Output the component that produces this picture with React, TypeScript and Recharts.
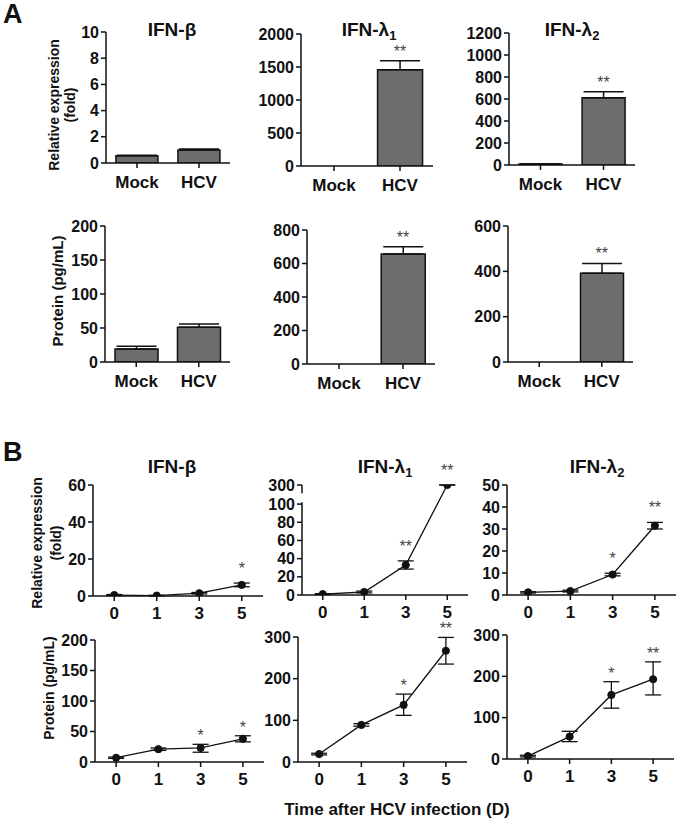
import {
  ComposedChart, Bar, Line, XAxis, YAxis, ErrorBar, LabelList, ReferenceLine,
} from 'recharts';

const FONT = '"Liberation Sans", Arial, sans-serif';
const INK = '#111';
const BAR_FILL = '#6d6d6d';

// ---- A: Mock vs HCV ----
const groups = ['Mock', 'HCV'];
const hcvStars = [undefined, '**'];

const mrnaBeta = [0.55, 1.0];
const mrnaBetaErr = [0.05, 0.06];
const mrnaBetaTicks = [0, 2, 4, 6, 8, 10];

const mrnaL1 = [0, 1460];
const mrnaL1Err = [0, 135];
const mrnaL1Ticks = [0, 500, 1000, 1500, 2000];

const mrnaL2 = [9, 612];
const mrnaL2Err = [0, 55];
const mrnaL2Ticks = [0, 200, 400, 600, 800, 1000, 1200];

const protBeta = [19, 51];
const protBetaErr = [4, 5];
const protBetaTicks = [0, 50, 100, 150, 200];

const protL1 = [0, 657];
const protL1Err = [0, 43];
const protL1Ticks = [0, 200, 400, 600, 800];

const protL2 = [0, 391];
const protL2Err = [0, 44];
const protL2Ticks = [0, 200, 400, 600];

// ---- B: time course (days after infection) ----
const days = ['0', '1', '3', '5'];

const tcMrnaBeta = [0.5, 0.2, 1.5, 6];
const tcMrnaBetaLo = [0.3, 0.2, 0.4, 1];
const tcMrnaBetaHi = [0.3, 0.2, 0.4, 1];
const tcMrnaBetaStars = [undefined, undefined, undefined, '*'];
const tcMrnaBetaTicks = [0, 20, 40, 60];

const tcMrnaL1 = [1, 3.3, 33, 300];
const tcMrnaL1Lo = [0.5, 1, 4.5, 0];
const tcMrnaL1Hi = [0.5, 1, 4.5, 0];
const tcMrnaL1Stars = [undefined, undefined, '**', '**'];
const tcMrnaL1Ticks = [0, 20, 40, 60, 80, 100, 300];

const tcMrnaL2 = [1.2, 1.8, 9.3, 31.5];
const tcMrnaL2Lo = [0.3, 0.4, 0.6, 1.5];
const tcMrnaL2Hi = [0.3, 0.4, 0.6, 1.5];
const tcMrnaL2Stars = [undefined, undefined, '*', '**'];
const tcMrnaL2Ticks = [0, 10, 20, 30, 40, 50];

const tcProtBeta = [7, 21, 23, 38];
const tcProtBetaLo = [1, 2, 7, 5];
const tcProtBetaHi = [1, 2, 6, 5];
const tcProtBetaStars = [undefined, undefined, '*', '*'];
const tcProtBetaTicks = [0, 50, 100, 150, 200];

const tcProtL1 = [19, 89, 137, 267];
const tcProtL1Lo = [2, 3, 25, 32];
const tcProtL1Hi = [2, 3, 26, 32];
const tcProtL1Stars = [undefined, undefined, '*', '**'];
const tcProtL1Ticks = [0, 100, 200, 300];

const tcProtL2 = [7, 54, 155, 193];
const tcProtL2Lo = [2, 12, 32, 38];
const tcProtL2Hi = [2, 13, 32, 42];
const tcProtL2Stars = [undefined, undefined, '*', '**'];
const tcProtL2Ticks = [0, 100, 200, 300];

// broken y axis for IFN-λ1 mRNA: linear up to 100, squeezed above
const BREAK = 100;
const squash = (v: number) => (v <= BREAK ? v : BREAK + (v - BREAK) * 0.105);
const same = (v: number) => v;

// plot-area boxes on the page
type Box = { x0: number; y0: number; x1: number; y1: number };
const YW = 50;
const MT = 34;
const MR = 12;
const XH = 34;

const tickStyle = { fontSize: 16, fontWeight: 700, fill: INK, fontFamily: FONT };
const axisStyle = { stroke: INK, strokeWidth: 1.5 };

function place(b: Box) {
  return {
    left: b.x0 - YW,
    top: b.y0 - MT,
    width: b.x1 - b.x0 + YW + MR,
    height: b.y1 - b.y0 + MT + XH,
  };
}

interface BarPanelProps {
  box: Box;
  values: number[];
  errs: number[];
  ticks: number[];
  stars?: (string | undefined)[];
}

function BarPanel({ box, values, errs, ticks, stars }: BarPanelProps) {
  const p = place(box);
  const data = groups.map((g, i) => ({
    g,
    v: values[i],
    e: [0, errs[i]],
    top: values[i] + errs[i],
    star: stars ? stars[i] : undefined,
  }));
  return (
    <div style={{ position: 'absolute', left: p.left, top: p.top }}>
      <ComposedChart width={p.width} height={p.height} data={data}
        margin={{ top: MT, right: MR, bottom: 0, left: 0 }} barCategoryGap="16%">
        <XAxis dataKey="g" height={XH} interval={0} tickSize={5} tickMargin={8}
          axisLine={axisStyle} tickLine={axisStyle}
          tick={{ ...tickStyle, fontSize: 17 }} />
        <YAxis width={YW} domain={[0, ticks[ticks.length - 1]]} ticks={ticks} interval={0}
          tickSize={5} tickMargin={2} axisLine={axisStyle} tickLine={axisStyle}
          tick={tickStyle} allowDataOverflow />
        <Bar dataKey="v" fill={BAR_FILL} stroke={INK} strokeWidth={1.5} isAnimationActive={false}>
          <ErrorBar dataKey="e" width={20} stroke={INK} strokeWidth={1.5} direction="y" />
        </Bar>
        <Line dataKey="top" stroke="none" dot={false} activeDot={false} legendType="none"
          isAnimationActive={false}>
          <LabelList dataKey="star" position="top" offset={4} fill="#444" fontSize={16}
            fontFamily={FONT} />
        </Line>
      </ComposedChart>
    </div>
  );
}

interface LinePanelProps {
  box: Box;
  values: number[];
  lo: number[];
  hi: number[];
  stars: (string | undefined)[];
  ticks: number[];
  starOffset: number;
  broken?: boolean;
}

function LinePanel({ box, values, lo, hi, stars, ticks, starOffset, broken }: LinePanelProps) {
  const p = place(box);
  const f = broken ? squash : same;
  const data = days.map((d, i) => ({
    i,
    d,
    v: f(values[i]),
    e: [f(values[i]) - f(values[i] - lo[i]), f(values[i] + hi[i]) - f(values[i])],
    top: f(values[i] + hi[i]),
    star: stars[i],
  }));
  const yTicks = ticks.map(f);
  const yMax = yTicks[yTicks.length - 1];
  return (
    <div style={{ position: 'absolute', left: p.left, top: p.top }}>
      <ComposedChart width={p.width} height={p.height} data={data}
        margin={{ top: MT, right: MR, bottom: 0, left: 0 }}>
        <XAxis type="number" dataKey="i" domain={[-0.5, 3.5]} ticks={[0, 1, 2, 3]}
          tickFormatter={(i: number) => days[i]} height={XH} interval={0}
          tickSize={5} tickMargin={6} axisLine={axisStyle} tickLine={axisStyle}
          tick={{ ...tickStyle, fontSize: 17 }} />
        <YAxis width={YW} domain={[0, yMax]} ticks={yTicks} interval={0}
          tickFormatter={(t: number) => String(ticks[yTicks.indexOf(t)])}
          tickSize={5} tickMargin={2} axisLine={broken ? false : axisStyle} tickLine={axisStyle}
          tick={tickStyle} allowDataOverflow />
        {broken && (
          <ReferenceLine ifOverflow="visible" stroke={INK} strokeWidth={1.5}
            segment={[{ x: -0.5, y: 0 }, { x: -0.5, y: 102 }]} />
        )}
        {broken && (
          <ReferenceLine ifOverflow="visible" stroke={INK} strokeWidth={1.5}
            segment={[{ x: -0.5, y: 112 }, { x: -0.5, y: yMax }]} />
        )}
        <Line dataKey="v" stroke={INK} strokeWidth={1.3} isAnimationActive={false}
          dot={{ r: 3.6, fill: INK, stroke: INK, strokeWidth: 1 }} activeDot={false}>
          <ErrorBar dataKey="e" width={8} stroke={INK} strokeWidth={1.3} direction="y" />
        </Line>
        <Line dataKey="top" stroke="none" dot={false} activeDot={false} legendType="none"
          isAnimationActive={false}>
          <LabelList dataKey="star" position="top" offset={starOffset} fill="#444"
            fontSize={16} fontFamily={FONT} />
        </Line>
      </ComposedChart>
    </div>
  );
}

function Title({ x, y, sub, children }: { x: number; y: number; sub?: string; children: string }) {
  return (
    <text x={x} y={y} textAnchor="middle" fontSize={19} fontWeight={700} fill={INK}>
      <tspan>{children}</tspan>
      {sub && <tspan dy={4} fontSize={13}>{sub}</tspan>}
    </text>
  );
}

function VLabel({ x, y, size, children }: { x: number; y: number; size: number; children: string }) {
  return (
    <text transform={`translate(${x},${y}) rotate(-90)`} textAnchor="middle"
      dominantBaseline="central" fontSize={size} fontWeight={700} fill={INK}>
      {children}
    </text>
  );
}

export default function App() {
  return (
    <div style={{
      position: 'absolute', left: 0, top: 0, width: 680, height: 820,
      overflow: 'hidden', background: '#fff', fontFamily: FONT,
    }}>
      <BarPanel box={{ x0: 106, y0: 32, x1: 230, y1: 163 }} values={mrnaBeta} errs={mrnaBetaErr}
        ticks={mrnaBetaTicks} />
      <BarPanel box={{ x0: 301, y0: 34, x1: 433, y1: 166 }} values={mrnaL1} errs={mrnaL1Err}
        ticks={mrnaL1Ticks} stars={hcvStars} />
      <BarPanel box={{ x0: 509, y0: 33, x1: 635, y1: 165 }} values={mrnaL2} errs={mrnaL2Err}
        ticks={mrnaL2Ticks} stars={hcvStars} />
      <BarPanel box={{ x0: 105, y0: 226, x1: 230, y1: 362 }} values={protBeta} errs={protBetaErr}
        ticks={protBetaTicks} />
      <BarPanel box={{ x0: 307, y0: 230, x1: 435, y1: 364 }} values={protL1} errs={protL1Err}
        ticks={protL1Ticks} stars={hcvStars} />
      <BarPanel box={{ x0: 508, y0: 226, x1: 633, y1: 362 }} values={protL2} errs={protL2Err}
        ticks={protL2Ticks} stars={hcvStars} />

      <LinePanel box={{ x0: 93, y0: 485, x1: 263, y1: 596 }} values={tcMrnaBeta} lo={tcMrnaBetaLo}
        hi={tcMrnaBetaHi} stars={tcMrnaBetaStars} ticks={tcMrnaBetaTicks} starOffset={9} />
      <LinePanel box={{ x0: 302, y0: 485, x1: 468, y1: 595 }} values={tcMrnaL1} lo={tcMrnaL1Lo}
        hi={tcMrnaL1Hi} stars={tcMrnaL1Stars} ticks={tcMrnaL1Ticks} starOffset={9} broken />
      <LinePanel box={{ x0: 507, y0: 485, x1: 676, y1: 595 }} values={tcMrnaL2} lo={tcMrnaL2Lo}
        hi={tcMrnaL2Hi} stars={tcMrnaL2Stars} ticks={tcMrnaL2Ticks} starOffset={9} />
      <LinePanel box={{ x0: 95, y0: 640, x1: 264, y1: 762 }} values={tcProtBeta} lo={tcProtBetaLo}
        hi={tcProtBetaHi} stars={tcProtBetaStars} ticks={tcProtBetaTicks} starOffset={3} />
      <LinePanel box={{ x0: 298, y0: 637, x1: 467, y1: 762 }} values={tcProtL1} lo={tcProtL1Lo}
        hi={tcProtL1Hi} stars={tcProtL1Stars} ticks={tcProtL1Ticks} starOffset={3} />
      <LinePanel box={{ x0: 507, y0: 635, x1: 674, y1: 759 }} values={tcProtL2} lo={tcProtL2Lo}
        hi={tcProtL2Hi} stars={tcProtL2Stars} ticks={tcProtL2Ticks} starOffset={3} />

      {/* titles, panel letters and shared axis labels */}
      <svg width={680} height={820} style={{ position: 'absolute', left: 0, top: 0, pointerEvents: 'none' }}
        fontFamily={FONT}>
        <text x={3} y={23} fontSize={27} fontWeight={700} fill={INK}>A</text>
        <text x={3} y={461} fontSize={27} fontWeight={700} fill={INK}>B</text>

        <Title x={172} y={36}>IFN-β</Title>
        <Title x={369} y={36} sub="1">IFN-λ</Title>
        <Title x={572} y={36} sub="2">IFN-λ</Title>
        <Title x={172} y={473}>IFN-β</Title>
        <Title x={385} y={473} sub="1">IFN-λ</Title>
        <Title x={597} y={473} sub="2">IFN-λ</Title>

        <VLabel x={54} y={105} size={14}>Relative expression</VLabel>
        <VLabel x={70} y={105} size={14}>(fold)</VLabel>
        <VLabel x={57} y={291} size={15}>Protein (pg/mL)</VLabel>
        <VLabel x={37} y={543} size={14}>Relative expression</VLabel>
        <VLabel x={56} y={543} size={14}>(fold)</VLabel>
        <VLabel x={49} y={688} size={14}>Protein (pg/mL)</VLabel>

        <text x={397} y={815} textAnchor="middle" fontSize={17} fontWeight={700} fill={INK}>
          Time after HCV infection (D)
        </text>
      </svg>
    </div>
  );
}
